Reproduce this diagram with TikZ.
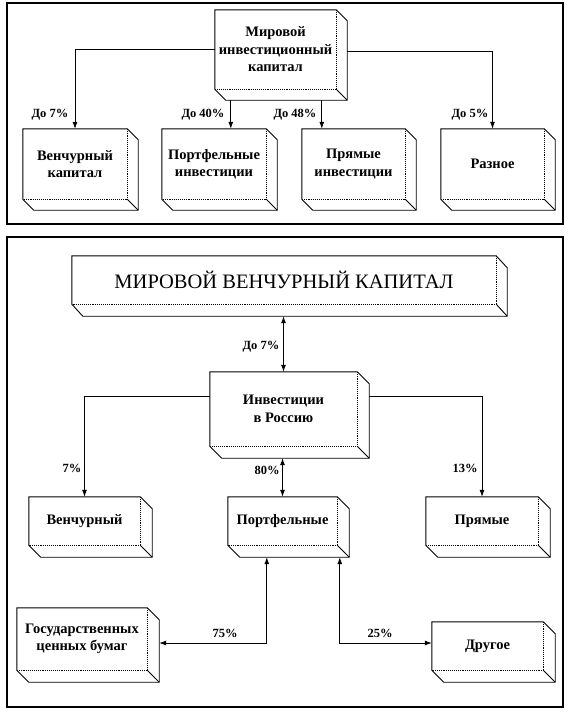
\documentclass[tikz,border=0pt]{standalone}
\usepackage{fontspec}
\setmainfont{Liberation Serif}
\usetikzlibrary{arrows.meta,calc}
\newcommand\boxthreed[3]{%
  \draw[line width=0.9pt] (#1.south west) -- (#1.north west) -- (#1.north east)
    -- ($(#1.north east)+(#2,#3)$) -- ($(#1.south east)+(#2,#3)$)
    -- ($(#1.south west)+(#2,#3)$) -- cycle;
  \draw[densely dotted,line width=0.9pt] (#1.north east) -- (#1.south east) -- (#1.south west);
  \draw[line width=0.9pt] (#1.south east) -- ($(#1.south east)+(#2,#3)$);
}
\begin{document}
\begin{tikzpicture}[x=1pt,y=-1pt,
  face/.style={draw=none,inner sep=0pt,align=center,font=\bfseries\fontsize{14.5}{17.5}\selectfont},
  title/.style={draw=none,inner sep=0pt,align=center,font=\fontsize{20.5}{24}\selectfont},
  lbl/.style={font=\bfseries\fontsize{12.5}{14}\selectfont,inner sep=0pt},
  conn/.style={line width=0.8pt},
  arr/.style={conn,-{Latex[length=7pt,width=5pt]}},
  darr/.style={conn,{Latex[length=7pt,width=5pt]}-{Latex[length=7pt,width=5pt]}},
  frame/.style={line width=1.3pt}]
\fill[white] (0,0) rectangle (572,712);
\useasboundingbox (0,0) rectangle (572,712);

% frames
\draw[frame] (7,3) rectangle (563,224);
\draw[frame] (7,237) rectangle (563,707);

% ---------- top panel ----------
\node[face,minimum width=121pt,minimum height=79pt] (A) at (275.5,49.5) {Мировой\\инвестиционный\\капитал};
\node[face,minimum width=104pt,minimum height=70pt] (B1) at (75,164) {Венчурный\\капитал};
\node[face,minimum width=104pt,minimum height=70pt] (B2) at (214,164) {Портфельные\\инвестиции};
\node[face,minimum width=103pt,minimum height=70pt] (B3) at (353.5,164) {Прямые\\инвестиции};
\node[face,minimum width=103pt,minimum height=70pt] (B4) at (492.5,164) {Разное};
\boxthreed{A}{11}{11}
\boxthreed{B1}{11}{11}
\boxthreed{B2}{11}{11}
\boxthreed{B3}{11}{11}
\boxthreed{B4}{11}{11}

\draw[arr] ($(A.north west)+(0,40)$) -| (B1.north);
\draw[arr] ($(A.north east)+(11,42)$) -| (B4.north);
\draw[arr] ($(A.south west)+(16,11)$) -- ($(B2.north west)+(69,0)$);
\draw[arr] ($(A.south west)+(107,11)$) -- ($(B3.north west)+(20,0)$);

\node[lbl] (l1) at (50,115) {До 7\%};
\node[lbl] (l2) at (203,115) {До 40\%};
\node[lbl] (l3) at (295,115) {До 48\%};
\node[lbl] (l4) at (470,115) {До 5\%};

% ---------- bottom panel ----------
\node[title,minimum width=424pt,minimum height=48pt] (T) at (284,280) {МИРОВОЙ ВЕНЧУРНЫЙ КАПИТАЛ};
\node[face,minimum width=147pt,minimum height=74pt] (R) at (283.5,409) {Инвестиции\\в Россию};
\node[face,minimum width=111pt,minimum height=48pt] (V) at (84.5,521) {Венчурный};
\node[face,minimum width=109pt,minimum height=48pt] (P) at (282.5,521) {Портфельные};
\node[face,minimum width=112pt,minimum height=48pt] (Pr) at (482,521) {Прямые};
\node[face,minimum width=130pt,minimum height=62pt] (G) at (82,639) {Государственных\\ценных бумаг};
\node[face,minimum width=111pt,minimum height=48pt] (D) at (487.5,646) {Другое};
\boxthreed{T}{11}{12}
\boxthreed{R}{12}{12}
\boxthreed{V}{12}{12}
\boxthreed{P}{12}{12}
\boxthreed{Pr}{12}{12}
\boxthreed{G}{12}{12}
\boxthreed{D}{12}{12}

\coordinate (Tb) at ($(T.south)+(0,12)$);
\coordinate (Rb) at ($(R.south)+(0,12)$);
\draw[darr] (R.north) -- (R.north |- Tb);
\draw[arr] ($(R.north west)+(0,25)$) -| (V.north);
\draw[arr] ($(R.north east)+(12,25)$) -| (Pr.north);
\draw[darr] (P.north) -- (P.north |- Rb);
\draw[darr] ($(P.south west)+(39,12)$) |- ($(G.east)+(12,4)$);
\draw[darr] ($(P.south west)+(112,12)$) |- ($(D.west)+(0,-3)$);

\node[lbl] (m1) at (261,347) {До 7\%};
\node[lbl] (m2) at (72,468) {7\%};
\node[lbl] (m3) at (267,470) {80\%};
\node[lbl] (m4) at (465,468) {13\%};
\node[lbl] (m5) at (225,633) {75\%};
\node[lbl] (m6) at (380,633) {25\%};
\end{tikzpicture}
\end{document}
